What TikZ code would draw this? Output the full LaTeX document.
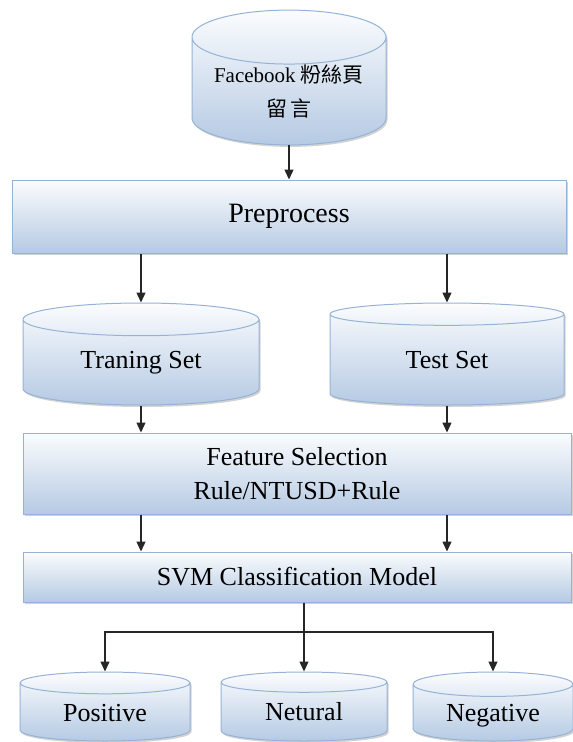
\documentclass[tikz,border=0pt]{standalone}
\usepackage{fontspec}
\setmainfont{Liberation Serif}
\newfontfamily\cjk{Noto Sans CJK TC}
\usetikzlibrary{arrows.meta,shapes.geometric,shadows}
\definecolor{paletop}{HTML}{FBFCFE}
\definecolor{palebot}{HTML}{B5CAE3}
\definecolor{edgeblue}{HTML}{95B3D7}
\tikzset{
  stage/.style={draw=edgeblue,line width=1pt,top color=paletop,bottom color=palebot,
    drop shadow={shadow xshift=1.5pt,shadow yshift=-2pt,fill=black!35},
    font=\fontsize{26}{34}\selectfont,align=center,inner sep=0pt},
  store/.style={stage,cylinder,shape border rotate=90,anchor=shape center},
  result/.style={store,minimum height=69,aspect=0.26,text height=18pt,text depth=0pt},
  flow/.style={-{Triangle[width=9pt,length=10pt]},line width=1.3pt,black!85}
}

\begin{document}
\begin{tikzpicture}[x=1pt,y=-1pt]
    \useasboundingbox (0,0) rectangle (573,742);

    \node[store,minimum width=194,minimum height=125,aspect=0.36,font=\fontsize{21}{34}\selectfont]
      (fb) at (289,77.5) {Facebook {\cjk 粉絲頁}\\{\cjk 留\,言}};
    \node[stage,minimum width=554,minimum height=73,font=\fontsize{28}{34}\selectfont]
      (pre) at (289,216.5) {Preprocess};
    \node[store,minimum width=236,minimum height=102,aspect=0.27] (train) at (141,354) {Traning Set};
    \node[store,minimum width=234,minimum height=102,aspect=0.27] (test) at (447,354) {Test Set};
    \node[stage,minimum width=548,minimum height=81] (feat) at (297,473.5) {Feature Selection\\Rule/NTUSD+Rule};
    \node[stage,minimum width=548,minimum height=50] (svm) at (297,577) {SVM Classification Model};
    \node[result,minimum width=170] (pos) at (105,706.5) {Positive};
    \node[result,minimum width=166] (neu) at (304,706.5) {Netural};
    \node[result,minimum width=160] (neg) at (493,706.5) {Negative};
    \coordinate (fork) at (304,632);

    \draw[flow] (fb) -- (pre);
    \draw[flow] (pre.south -| train) -- (train);
    \draw[flow] (pre.south -| test) -- (test);
    \draw[flow] (train) -- (train |- feat.north);
    \draw[flow] (test) -- (test |- feat.north);
    \draw[flow] (feat.south -| train) -- (train |- svm.north);
    \draw[flow] (feat.south -| test) -- (test |- svm.north);
    \draw[flow,-] (svm.south -| fork) -- (fork);
    \draw[flow] (fork) -| (pos);
    \draw[flow] (fork) -- (neu);
    \draw[flow] (fork) -| (neg);
\end{tikzpicture}
\end{document}
